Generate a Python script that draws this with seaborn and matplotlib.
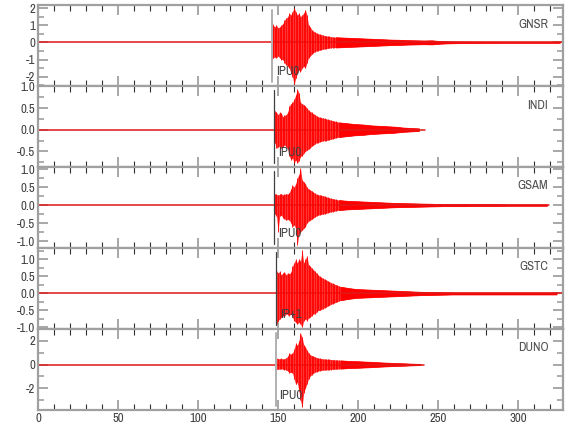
import numpy as np
import matplotlib
matplotlib.use("Agg")
import matplotlib.pyplot as plt
from matplotlib import font_manager
from matplotlib.ticker import MultipleLocator, FormatStrFormatter
import seaborn as sns

# station names, phase picks (s) and the label written next to each pick
stations = ["GNSR", "INDI", "GSAM", "GSTC", "DUNO"]
pick_times = [146.4, 147.7, 147.7, 149.0, 148.5]
pick_labels = ["IPU0", "IPU0", "IPU0", "IP+1", "IPU0"]
trace_end = [328, 241.5, 319, 328, 241]

# per-second peak amplitudes (max / min), from main_start on
main_start = [146, 148, 148, 149, 149]
gnsr_hi = [1.3, 1.0, 0.9, 1.0, 0.85, 0.9, 1.0, 1.1, 1.3, 1.4, 1.5, 1.7, 1.6, 1.8, 2.0, 1.8,
           1.6, 1.7, 1.5, 1.6, 1.7, 1.9, 1.6, 1.0, 0.9, 0.75, 0.65, 0.6, 0.55, 0.5, 0.48,
           0.45, 0.42, 0.4, 0.38, 0.36, 0.35, 0.33, 0.32, 0.3]
gnsr_lo = [-1.0, -0.9, -0.85, -0.9, -0.8, -0.9, -1.0, -1.0, -1.2, -1.3, -1.4, -1.5, -1.8,
           -2.0, -2.45, -2.1, -1.8, -1.6, -1.7, -1.5, -1.4, -1.5, -1.2, -0.9, -0.8, -0.7,
           -0.6, -0.55, -0.5, -0.48, -0.45, -0.42, -0.4, -0.38, -0.36, -0.35, -0.33, -0.32,
           -0.3, -0.3]
indi_hi = [0.44, 0.4, 0.35, 0.4, 0.38, 0.3, 0.33, 0.35, 0.4, 0.55, 0.6, 0.63, 0.7, 0.8,
           0.93, 0.85, 0.63, 0.6, 0.58, 0.55, 0.5, 0.45, 0.42, 0.4, 0.37, 0.35, 0.32, 0.3,
           0.29, 0.28, 0.27, 0.26, 0.25, 0.24, 0.23, 0.22, 0.21, 0.2, 0.19, 0.18]
indi_lo = [-0.3, -0.43, -0.4, -0.38, -0.43, -0.4, -0.35, -0.4, -0.45, -0.6, -0.7, -0.65,
           -0.77, -0.7, -0.77, -0.72, -0.62, -0.6, -0.55, -0.5, -0.48, -0.45, -0.42, -0.38,
           -0.36, -0.33, -0.3, -0.3, -0.28, -0.27, -0.26, -0.25, -0.25, -0.24, -0.23, -0.22,
           -0.21, -0.2, -0.19, -0.18]
gsam_hi = [0.32, 0.3, 0.28, 0.3, 0.32, 0.28, 0.3, 0.32, 0.3, 0.35, 0.45, 0.55, 0.5, 0.6,
           0.75, 0.85, 1.02, 0.7, 0.65, 0.6, 0.5, 0.45, 0.42, 0.4, 0.36, 0.33, 0.3, 0.29,
           0.28, 0.27, 0.26, 0.25, 0.23, 0.22, 0.2, 0.19, 0.18, 0.17, 0.16, 0.15]
gsam_lo = [-0.25, -0.3, -0.74, -0.3, -0.28, -0.35, -0.38, -0.42, -0.4, -0.42, -0.5, -0.6,
           -0.55, -0.65, -1.1, -0.8, -0.75, -0.7, -0.65, -0.6, -0.5, -0.45, -0.42, -0.4,
           -0.36, -0.33, -0.3, -0.28, -0.27, -0.26, -0.25, -0.24, -0.23, -0.21, -0.2, -0.19,
           -0.18, -0.17, -0.16, -0.15]
gstc_hi = [0.68, 0.6, 0.65, 0.55, 0.6, 0.63, 0.55, 0.6, 0.58, 0.63, 0.8, 0.9, 1.0, 0.9,
           1.02, 0.95, 1.27, 0.9, 1.0, 1.1, 0.85, 0.8, 0.75, 0.7, 0.65, 0.6, 0.55, 0.5,
           0.47, 0.45, 0.42, 0.4, 0.37, 0.35, 0.32, 0.3, 0.28, 0.26, 0.24, 0.22]
gstc_lo = [-0.92, -0.8, -0.75, -0.7, -0.65, -0.67, -0.6, -0.62, -0.65, -0.6, -0.7, -0.8,
           -0.85, -0.9, -0.85, -0.9, -1.0, -0.8, -0.75, -0.8, -0.72, -0.7, -0.65, -0.6,
           -0.6, -0.55, -0.5, -0.5, -0.47, -0.45, -0.42, -0.4, -0.37, -0.35, -0.32, -0.3,
           -0.28, -0.26, -0.24, -0.22]
duno_hi = [0.55, 0.5, 0.48, 0.52, 0.45, 0.5, 0.55, 0.7, 0.97, 0.85, 0.95, 1.3, 1.8, 1.6,
           2.0, 2.64, 2.3, 1.67, 1.5, 1.2, 1.0, 0.83, 0.75, 0.7, 0.65, 0.58, 0.55, 0.52,
           0.5, 0.48, 0.46, 0.45, 0.44, 0.43, 0.42, 0.41, 0.4, 0.39, 0.38, 0.37]
duno_lo = [-0.42, -0.4, -0.38, -0.35, -0.4, -0.42, -0.45, -0.55, -0.7, -0.65, -0.7, -1.2,
           -1.67, -1.5, -2.2, -3.0, -3.6, -2.36, -2.0, -1.6, -1.2, -0.97, -0.85, -0.75,
           -0.65, -0.6, -0.55, -0.52, -0.5, -0.48, -0.46, -0.45, -0.44, -0.43, -0.42, -0.41,
           -0.4, -0.39, -0.38, -0.37]

# coda envelope, one value every 5 s after the per-second part
coda_step = 5
gnsr_coda = [0.3, 0.28, 0.26, 0.24, 0.22, 0.2, 0.18, 0.16, 0.15, 0.13, 0.12, 0.11, 0.12,
             0.08, 0.06, 0.05, 0.045, 0.04, 0.04, 0.035, 0.035, 0.03, 0.03, 0.03, 0.03,
             0.03, 0.03, 0.03, 0.03]
indi_coda = [0.17, 0.15, 0.13, 0.12, 0.1, 0.09, 0.08, 0.07, 0.05, 0.04, 0.03]
gsam_coda = [0.14, 0.12, 0.11, 0.1, 0.09, 0.08, 0.07, 0.06, 0.055, 0.05, 0.045, 0.04,
             0.035, 0.03, 0.03, 0.03, 0.03, 0.025, 0.025, 0.025, 0.025, 0.02, 0.02, 0.02,
             0.02, 0.02, 0.02]
gstc_coda = [0.2, 0.16, 0.13, 0.12, 0.11, 0.1, 0.09, 0.08, 0.07, 0.06, 0.05, 0.045, 0.04,
             0.035, 0.03, 0.03, 0.03, 0.03, 0.03, 0.03, 0.03, 0.03, 0.03, 0.03, 0.03, 0.03,
             0.03, 0.03]
duno_coda = [0.35, 0.3, 0.28, 0.25, 0.22, 0.18, 0.15, 0.12, 0.1, 0.07, 0.05]

highs = [gnsr_hi, indi_hi, gsam_hi, gstc_hi, duno_hi]
lows = [gnsr_lo, indi_lo, gsam_lo, gstc_lo, duno_lo]
codas = [gnsr_coda, indi_coda, gsam_coda, gstc_coda, duno_coda]

# axis ranges per panel
ylims = [(-2.57, 2.15), (-0.87, 1.0), (-1.2, 1.05), (-1.05, 1.33), (-3.83, 2.97)]
y_major = [1, 0.5, 0.5, 0.5, 2]
y_minor = [0.5, 0.25, 0.25, 0.25, 1]
y_fmt = ["%d", "%.1f", "%.1f", "%.1f", "%d"]
pick_color = ["#b0b0b0", "#404040", "#404040", "#404040", "#b0b0b0"]
pick_width = [1.4, 0.9, 0.9, 0.9, 1.4]

sns.set_style("ticks")

# look for a narrow face, the reference uses a condensed font
font, stretch = "DejaVu Sans", "normal"
for f in font_manager.fontManager.ttflist:
    if "Narrow" in f.name or "Condensed" in f.name:
        font, stretch = f.name, "normal"
        break
    if f.stretch in ("condensed", "semi-condensed", 75, 87.5):
        font, stretch = f.name, "condensed"
plt.rcParams["font.family"] = [font, "DejaVu Sans"]
plt.rcParams["font.stretch"] = stretch
fsize = 9.2 if font != "DejaVu Sans" or stretch == "condensed" else 7.5

fig = plt.figure(figsize=(5.8, 4.4), dpi=100)
axes = fig.subplots(5, 1, sharex=True)
fig.subplots_adjust(left=0.0655, right=0.9707, top=0.9875, bottom=0.068, hspace=0)

for i, ax in enumerate(axes):
    hi = np.array(highs[i])
    lo = np.array(lows[i])
    coda = np.array(codas[i])
    t_main = main_start[i] + np.arange(len(hi))
    t_coda = t_main[-1] + 1 + coda_step * np.arange(len(coda))
    t_all = np.concatenate([t_main, t_coda])
    hi_all = np.concatenate([hi, coda])
    lo_all = np.concatenate([lo, -coda])

    # quiet trace before/after the event
    sns.lineplot(x=[0, trace_end[i]], y=[0, 0], ax=ax, color="#e01818", lw=1.1)
    ax.fill_between(t_all, lo_all, hi_all, color="#ff1010", alpha=0.85, lw=0,
                    clip_on=False)
    ax.fill_between(t_coda, -coda, coda, color="#ff0000", lw=0.5, clip_on=False)
    ax.vlines(t_main, lo, hi, color="#ff0000", lw=0.6, clip_on=False)

    # phase pick
    ax.axvline(pick_times[i], ymin=0.05, ymax=0.95, color=pick_color[i],
               lw=pick_width[i])
    ax.text(pick_times[i] + 2.2, 0.18, pick_labels[i], transform=ax.get_xaxis_transform(),
            ha="left", va="center", fontsize=fsize, color="#404040")
    ax.text(0.972, 0.77, stations[i], transform=ax.transAxes, ha="right",
            va="center", fontsize=fsize, color="#505050")

    ax.set_xlim(0, 328)
    ax.set_ylim(*ylims[i])
    ax.yaxis.set_major_locator(MultipleLocator(y_major[i]))
    ax.yaxis.set_minor_locator(MultipleLocator(y_minor[i]))
    ax.yaxis.set_major_formatter(FormatStrFormatter(y_fmt[i]))
    ax.xaxis.set_major_locator(MultipleLocator(50))
    ax.xaxis.set_minor_locator(MultipleLocator(10))
    ax.tick_params(axis="both", which="both", direction="in", top=True, right=True,
                   labelsize=fsize, labelcolor="#404040", pad=2)
    ax.tick_params(axis="both", which="major", length=7, width=1.3, color="#a0a0a0")
    ax.tick_params(axis="both", which="minor", length=4, width=0.8, color="#303030")
    ax.tick_params(axis="y", which="minor", color="#a0a0a0", width=1.2)
    for s in ax.spines.values():
        s.set_color("#a0a0a0")
        s.set_linewidth(1.6)
        s.set_visible(True)
    ax.set_xlabel("")
    ax.set_ylabel("")
    if i < 4:
        ax.tick_params(axis="x", labelbottom=False)

fig.savefig("out.png", dpi=100)
